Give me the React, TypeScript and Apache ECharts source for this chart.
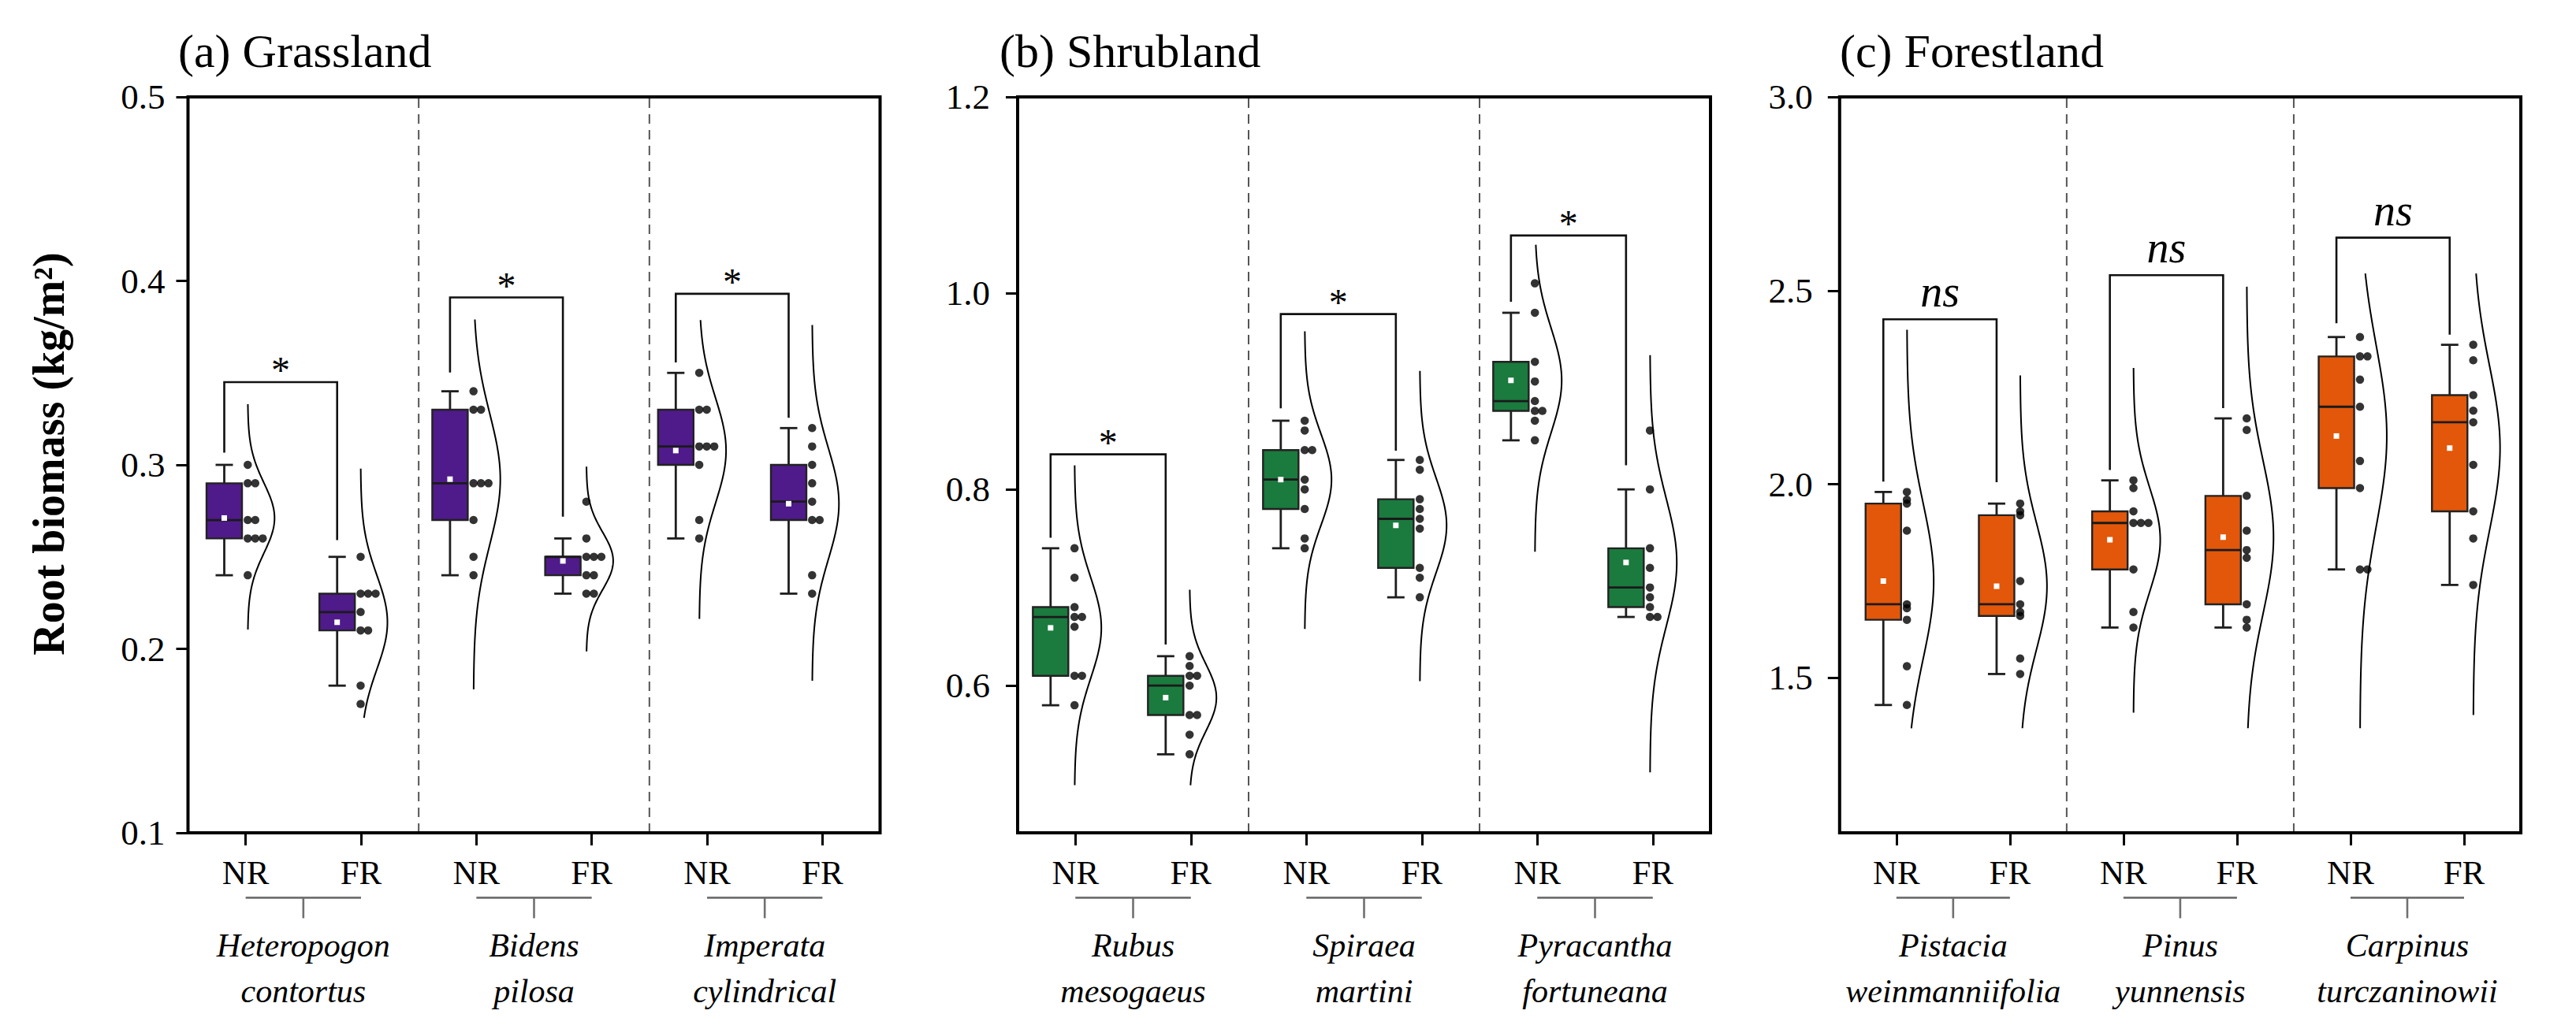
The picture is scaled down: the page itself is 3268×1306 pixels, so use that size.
import React, { useEffect, useRef } from 'react';
import * as echarts from 'echarts';

const FONT = '"Liberation Serif", "Times New Roman", Times, serif';

// ---------------- data ----------------
const panelTitles = ['(a) Grassland', '(b) Shrubland', '(c) Forestland'];
const treatmentLabels = ['NR', 'FR', 'NR', 'FR', 'NR', 'FR'];

const grassSpecies = ['Heteropogon\ncontortus', 'Bidens\npilosa', 'Imperata\ncylindrical'];
const shrubSpecies = ['Rubus\nmesogaeus', 'Spiraea\nmartini', 'Pyracantha\nfortuneana'];
const forestSpecies = ['Pistacia\nweinmanniifolia', 'Pinus\nyunnensis', 'Carpinus\nturczaninowii'];

const grassTicks = [0.1, 0.2, 0.3, 0.4, 0.5];
const shrubTicks = [0.6, 0.8, 1.0, 1.2];
const forestTicks = [1.5, 2.0, 2.5, 3.0];

const grassAxisRange = [0.1, 0.5];
const shrubAxisRange = [0.45, 1.2];
const forestAxisRange = [1.1, 3.0];

// Root biomass samples (kg/m2); order: sp1 NR, sp1 FR, sp2 NR, sp2 FR, sp3 NR, sp3 FR
const grassSamples = [
  [0.30, 0.29, 0.29, 0.27, 0.27, 0.26, 0.26, 0.26, 0.24],
  [0.25, 0.23, 0.23, 0.23, 0.22, 0.21, 0.21, 0.18, 0.17],
  [0.34, 0.33, 0.33, 0.29, 0.29, 0.29, 0.27, 0.25, 0.24],
  [0.28, 0.26, 0.25, 0.25, 0.25, 0.24, 0.24, 0.23, 0.23],
  [0.35, 0.33, 0.33, 0.31, 0.31, 0.31, 0.30, 0.27, 0.26],
  [0.32, 0.31, 0.30, 0.29, 0.28, 0.27, 0.27, 0.24, 0.23],
];
const shrubSamples = [
  [0.74, 0.71, 0.68, 0.67, 0.67, 0.66, 0.61, 0.61, 0.58],
  [0.63, 0.62, 0.61, 0.61, 0.60, 0.57, 0.57, 0.55, 0.53],
  [0.87, 0.86, 0.84, 0.84, 0.81, 0.80, 0.78, 0.75, 0.74],
  [0.83, 0.82, 0.79, 0.78, 0.77, 0.76, 0.72, 0.71, 0.69],
  [1.01, 0.98, 0.93, 0.91, 0.89, 0.88, 0.88, 0.87, 0.85],
  [0.86, 0.80, 0.74, 0.72, 0.70, 0.69, 0.68, 0.67, 0.67],
];
const forestSamples = [
  [1.98, 1.96, 1.95, 1.88, 1.69, 1.68, 1.65, 1.53, 1.43],
  [1.95, 1.93, 1.92, 1.75, 1.69, 1.67, 1.66, 1.55, 1.51],
  [2.01, 1.99, 1.93, 1.90, 1.90, 1.90, 1.78, 1.67, 1.63],
  [2.17, 2.14, 1.97, 1.88, 1.83, 1.81, 1.69, 1.65, 1.63],
  [2.38, 2.33, 2.33, 2.27, 2.20, 2.06, 1.99, 1.78, 1.78],
  [2.36, 2.32, 2.23, 2.19, 2.16, 2.05, 1.93, 1.86, 1.74],
];

// extent of each half-density curve (value units)
const grassCurveLow = [0.2105, 0.1625, 0.178, 0.1986, 0.2163, 0.1827];
const grassCurveHigh = [0.333, 0.298, 0.379, 0.299, 0.3787, 0.376];
const shrubCurveLow = [0.4985, 0.4985, 0.6577, 0.6045, 0.7364, 0.5116];
const shrubCurveHigh = [0.8245, 0.6978, 0.9612, 0.9208, 1.0493, 0.9369];
const forestCurveLow = [1.37, 1.37, 1.41, 1.37, 1.37, 1.404];
const forestCurveHigh = [2.399, 2.281, 2.30, 2.51, 2.544, 2.544];

// significance brackets per species: label, bar level, NR leg end, FR leg end
const grassSig = ['*', '*', '*'];
const grassBracketTop = [0.345, 0.391, 0.393];
const grassBracketNR = [0.3066, 0.3502, 0.3557];
const grassBracketFR = [0.2591, 0.2718, 0.3256];
const shrubSig = ['*', '*', '*'];
const shrubBracketTop = [0.8357, 0.9787, 1.0588];
const shrubBracketNR = [0.7507, 0.8826, 0.9912];
const shrubBracketFR = [0.642, 0.8395, 0.8245];
const forestSig = ['ns', 'ns', 'ns'];
const forestBracketTop = [2.4258, 2.5396, 2.6366];
const forestBracketNR = [2.007, 2.0366, 2.4158];
const forestBracketFR = [2.005, 2.1967, 2.3862];

// ---------------- layout / style ----------------
const GRID_TOP = 123;
const GRID_HEIGHT = 934;
const BOX_SHIFT = 0.104;
const DOT_SHIFT = 0.104;
const BOX_HALF = 22.5;
const CAP_HALF = 11;
const CURVE_WIDTH = 34;
const DOT_STEP = 9.5;

const panels = [
  {
    title: panelTitles[0], species: grassSpecies, ticks: grassTicks, range: grassAxisRange,
    samples: grassSamples, curveLow: grassCurveLow, curveHigh: grassCurveHigh,
    sig: grassSig, top: grassBracketTop, nr: grassBracketNR, fr: grassBracketFR,
    color: '#4F1A8A', left: 238.5, width: 878, xMin: -0.4253, xMax: 5.706, titleX: 226, labelMargin: 29,
  },
  {
    title: panelTitles[1], species: shrubSpecies, ticks: shrubTicks, range: shrubAxisRange,
    samples: shrubSamples, curveLow: shrubCurveLow, curveHigh: shrubCurveHigh,
    sig: shrubSig, top: shrubBracketTop, nr: shrubBracketNR, fr: shrubBracketFR,
    color: '#1B7A3E', left: 1291, width: 879, xMin: -0.3904, xMax: 5.63, titleX: 1268, labelMargin: 35,
  },
  {
    title: panelTitles[2], species: forestSpecies, ticks: forestTicks, range: forestAxisRange,
    samples: forestSamples, curveLow: forestCurveLow, curveHigh: forestCurveHigh,
    sig: forestSig, top: forestBracketTop, nr: forestBracketNR, fr: forestBracketFR,
    color: '#E2570A', left: 2333.8, width: 864.2, xMin: -0.4899, xMax: 5.524, titleX: 2334, labelMargin: 34,
  },
];

function quantile(s: number[], p: number) {
  const h = (s.length - 1) * p;
  const lo = Math.floor(h);
  const hi = Math.min(lo + 1, s.length - 1);
  return s[lo] + (h - lo) * (s[hi] - s[lo]);
}

function boxStats(vals: number[]) {
  const s = [...vals].sort((a, b) => a - b);
  const q1 = quantile(s, 0.25);
  const med = quantile(s, 0.5);
  const q3 = quantile(s, 0.75);
  const iqr = q3 - q1;
  const eps = 1e-9;
  const low = s.find((v) => v >= q1 - 1.5 * iqr - eps) as number;
  const high = [...s].reverse().find((v) => v <= q3 + 1.5 * iqr + eps) as number;
  const mean = s.reduce((a, b) => a + b, 0) / s.length;
  const sd = Math.sqrt(s.reduce((a, b) => a + (b - mean) * (b - mean), 0) / (s.length - 1));
  return { low, q1, med, q3, high, mean, sd };
}

function buildOption() {
  const grid: any[] = [];
  const xAxis: any[] = [];
  const yAxis: any[] = [];
  const series: any[] = [];
  const title: any[] = [];

  panels.forEach((p, g) => {
    const stats = p.samples.map(boxStats);
    const [yMin, yMax] = p.range;

    title.push({
      text: p.title, left: p.titleX, top: 35, padding: 0,
      textStyle: { fontFamily: FONT, fontSize: 60, fontWeight: 'normal', color: '#000', lineHeight: 60 },
    });

    grid.push({
      left: p.left, top: GRID_TOP, width: p.width, height: GRID_HEIGHT,
      show: true, borderColor: '#000', borderWidth: 4, backgroundColor: 'transparent',
      containLabel: false, outerBoundsMode: 'none',
    });

    // treatment axis (ticks + NR/FR labels)
    xAxis.push({
      type: 'category', gridIndex: g, position: 'bottom', data: treatmentLabels, boundaryGap: true,
      axisLine: { show: false, onZero: false },
      axisTick: { show: true, alignWithLabel: true, length: 16, lineStyle: { color: '#000', width: 3 } },
      axisLabel: { interval: 0, fontFamily: FONT, fontSize: 43, lineHeight: 43, color: '#000', margin: 29 },
      splitLine: { show: false },
    });
    // species axis
    xAxis.push({
      type: 'category', gridIndex: g, position: 'bottom', data: p.species, boundaryGap: true,
      axisLine: { show: false, onZero: false }, axisTick: { show: false }, splitLine: { show: false },
      axisLabel: {
        interval: 0, fontFamily: FONT, fontSize: 42, fontStyle: 'italic', lineHeight: 58,
        color: '#000', margin: 114,
      },
    });
    // hidden content axis
    xAxis.push({
      type: 'value', gridIndex: g, min: p.xMin, max: p.xMax, show: false,
      axisLine: { show: false, onZero: false }, splitLine: { show: false },
    });

    yAxis.push({
      type: 'value', gridIndex: g, min: yMin, max: yMax, position: 'left',
      axisLine: { show: false, onZero: false },
      splitLine: { show: false },
      axisTick: { show: true, inside: false, length: 15, lineStyle: { color: '#000', width: 3 }, customValues: p.ticks },
      axisLabel: {
        customValues: p.ticks, formatter: (v: number) => Number(v).toFixed(1),
        fontFamily: FONT, fontSize: 45, color: '#000', margin: p.labelMargin,
      },
    });

    const catAxis = 3 * g;
    const contAxis = 3 * g + 2;

    // dashed separators between species
    series.push({
      type: 'custom', xAxisIndex: catAxis, yAxisIndex: g, silent: true,
      data: [[2, yMin], [4, yMin]],
      renderItem: (params: any, api: any) => {
        const band = api.size([1, 0])[0];
        const pt = api.coord([api.value(0), yMax]);
        const pb = api.coord([api.value(0), yMin]);
        const x = pt[0] - band / 2;
        return {
          type: 'line', shape: { x1: x, y1: pt[1] + 2, x2: x, y2: pb[1] - 2 },
          style: { stroke: '#555', lineWidth: 2, lineDash: [12, 8] },
        };
      },
    });

    // grouping lines under NR / FR labels
    series.push({
      type: 'custom', xAxisIndex: catAxis, yAxisIndex: g, silent: true,
      data: [[0, yMin], [2, yMin], [4, yMin]],
      renderItem: (params: any, api: any) => {
        const i = api.value(0);
        const a = api.coord([i, yMin]);
        const b = api.coord([i + 1, yMin]);
        const yb = a[1] + 82.4;
        const mid = (a[0] + b[0]) / 2;
        const st = { stroke: '#707070', lineWidth: 2.6 };
        return {
          type: 'group',
          children: [
            { type: 'line', shape: { x1: a[0], y1: yb, x2: b[0], y2: yb }, style: st },
            { type: 'line', shape: { x1: mid, y1: yb, x2: mid, y2: yb + 26 }, style: st },
          ],
        };
      },
    });

    // half density curves
    series.push({
      type: 'custom', xAxisIndex: contAxis, yAxisIndex: g, silent: true,
      data: stats.map((s, i) => [i, s.mean]),
      renderItem: (params: any, api: any) => {
        const i = api.value(0);
        const s = stats[i];
        const lo = p.curveLow[i];
        const hi = p.curveHigh[i];
        const base = api.coord([i + DOT_SHIFT, s.mean])[0];
        const pts: number[][] = [];
        const N = 160;
        for (let n = 0; n <= N; n++) {
          const v = lo + ((hi - lo) * n) / N;
          const z = (v - s.mean) / s.sd;
          pts.push([base + CURVE_WIDTH * Math.exp(-0.5 * z * z), api.coord([i, v])[1]]);
        }
        return { type: 'polyline', shape: { points: pts }, style: { stroke: '#000', lineWidth: 2, fill: 'none' } };
      },
    });

    // box plots
    series.push({
      type: 'custom', xAxisIndex: contAxis, yAxisIndex: g, silent: true,
      data: stats.map((s, i) => [i, s.med]),
      renderItem: (params: any, api: any) => {
        const i = api.value(0);
        const s = stats[i];
        const cx = api.coord([i - BOX_SHIFT, s.med])[0];
        const Y = (v: number) => api.coord([i, v])[1];
        const line = { stroke: '#1e1e1e', lineWidth: 2.8 };
        return {
          type: 'group',
          children: [
            { type: 'line', shape: { x1: cx, y1: Y(s.high), x2: cx, y2: Y(s.q3) }, style: line },
            { type: 'line', shape: { x1: cx - CAP_HALF, y1: Y(s.high), x2: cx + CAP_HALF, y2: Y(s.high) }, style: line },
            { type: 'line', shape: { x1: cx, y1: Y(s.q1), x2: cx, y2: Y(s.low) }, style: line },
            { type: 'line', shape: { x1: cx - CAP_HALF, y1: Y(s.low), x2: cx + CAP_HALF, y2: Y(s.low) }, style: line },
            {
              type: 'rect',
              shape: { x: cx - BOX_HALF, y: Y(s.q3), width: 2 * BOX_HALF, height: Y(s.q1) - Y(s.q3) },
              style: { fill: p.color, stroke: '#222', lineWidth: 2.4 },
            },
            { type: 'line', shape: { x1: cx - BOX_HALF, y1: Y(s.med), x2: cx + BOX_HALF, y2: Y(s.med) }, style: { stroke: '#1a1a1a', lineWidth: 2.8 } },
            { type: 'rect', shape: { x: cx - 3.5, y: Y(s.mean) - 3.5, width: 7, height: 7 }, style: { fill: '#ffffff' } },
          ],
        };
      },
    });

    // raw sample points (equal values placed side by side)
    const dotData: any[] = [];
    p.samples.forEach((vals, i) => {
      vals.forEach((v, j) => {
        let k = 0;
        for (let t = 0; t < j; t++) if (Math.abs(vals[t] - v) < 1e-9) k++;
        dotData.push({ value: [i + DOT_SHIFT, v], symbolOffset: [k * DOT_STEP, 0] });
      });
    });
    series.push({
      type: 'scatter', xAxisIndex: contAxis, yAxisIndex: g, silent: true,
      symbol: 'circle', symbolSize: 10.5, itemStyle: { color: '#000' },
      data: dotData,
    });

    // significance brackets
    series.push({
      type: 'custom', xAxisIndex: contAxis, yAxisIndex: g, silent: true,
      data: p.top.map((t, j) => [2 * j, t]),
      renderItem: (params: any, api: any) => {
        const i = api.value(0);
        const j = i / 2;
        const xl = api.coord([i - BOX_SHIFT, p.top[j]])[0];
        const xr = api.coord([i + 1 - BOX_SHIFT, p.top[j]])[0];
        const yt = api.coord([i, p.top[j]])[1];
        const yl = api.coord([i, p.nr[j]])[1];
        const yr = api.coord([i, p.fr[j]])[1];
        const isNs = p.sig[j] === 'ns';
        return {
          type: 'group',
          children: [
            {
              type: 'polyline',
              shape: { points: [[xl, yl], [xl, yt], [xr, yt], [xr, yr]] },
              style: { stroke: '#111', lineWidth: 2.6, fill: 'none' },
            },
            {
              type: 'text', x: (xl + xr) / 2, y: yt - (isNs ? 35 : 15),
              style: {
                text: p.sig[j], fontFamily: FONT, fontSize: isNs ? 56 : 48,
                fontStyle: isNs ? 'italic' : 'normal', fill: '#000', align: 'center', verticalAlign: 'middle',
              },
            },
          ],
        };
      },
    });
  });

  return {
    animation: false,
    backgroundColor: '#ffffff',
    textStyle: { fontFamily: FONT },
    title,
    grid,
    xAxis,
    yAxis,
    series,
    graphic: [
      {
        type: 'text', x: 62, y: 576, rotation: Math.PI / 2,
        style: {
          text: 'Root biomass (kg/m²)', fontFamily: FONT, fontSize: 56, fontWeight: 'bold',
          fill: '#000', align: 'center', verticalAlign: 'middle',
        },
      },
    ],
  };
}

export default function App() {
  const ref = useRef<HTMLDivElement>(null);
  useEffect(() => {
    if (!ref.current) return;
    const chart = echarts.init(ref.current, null, { renderer: 'svg', width: 3268, height: 1306 });
    chart.setOption(buildOption() as any);
    return () => chart.dispose();
  }, []);
  return (
    <div
      ref={ref}
      style={{ position: 'absolute', left: 0, top: 0, width: '3268px', height: '1306px', background: '#fff' }}
    />
  );
}
